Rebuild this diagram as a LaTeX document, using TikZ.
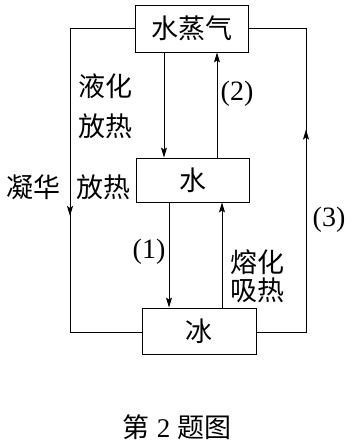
\documentclass[tikz,border=0pt]{standalone}
\usepackage{fontspec}
\setmainfont{Liberation Serif}
\newfontfamily\cjk{Noto Sans CJK SC}
\usetikzlibrary{arrows.meta,decorations.markings}
\begin{document}
\begin{tikzpicture}[x=1pt,y=-1pt,
  box/.style={draw,line width=0.9pt,inner sep=0pt,font=\cjk\fontsize{27}{32}\selectfont},
  lbl/.style={inner sep=0pt,font=\cjk\fontsize{27}{32}\selectfont},
  num/.style={inner sep=0pt,font=\fontsize{28}{32}\selectfont},
  mytip/.tip={Stealth[length=10pt,width=6pt,inset=2pt]},
  arr/.style={line width=0.9pt,-mytip},
  ln/.style={line width=0.9pt},
  midarr/.style={ln,postaction={decorate},decoration={markings,mark=at position #1 with {\arrow{mytip}}}}]
\useasboundingbox (0,0) rectangle (353,444);
\node[box,minimum width=113pt,minimum height=47pt] (v) at (191.5,28.5) {水蒸气};
\node[box,minimum width=113pt,minimum height=44pt] (w) at (192.5,180) {水};
\node[box,minimum width=114pt,minimum height=46pt] (i) at (199,331) {冰};
% helper coordinates
\coordinate (xa) at (164,0);
\coordinate (xb) at (217,0);
\coordinate (xc) at (169,0);
\coordinate (xd) at (222,0);
\coordinate (lt) at (70,28.5);
\coordinate (lb) at (70,332);
\coordinate (rt) at (306,28.5);
\coordinate (rb) at (306,332);
% vertical arrows
\draw[arr] (v.south -| xa) -- (w.north -| xa);
\draw[arr] (w.north -| xb) -- (v.south -| xb);
\draw[arr] (w.south -| xc) -- (i.north -| xc);
\draw[arr] (i.north -| xd) -- (w.south -| xd);
% outer loops
\draw[midarr=252pt] (v.west) -- (lt) -- (lb) -- (i.west |- lb);
\draw[midarr=252pt] (i.east |- rb) -- (rb) -- (rt) -- (v.east);
% labels
\node[lbl] (l1) at (105,86) {液化};
\node[lbl] (l2) at (105,126) {放热};
\node[lbl] (l3) at (33,187) {凝华};
\node[lbl] (l4) at (103,187) {放热};
\node[lbl] (l5) at (257,262) {熔化};
\node[lbl] (l6) at (257,290) {吸热};
\node[num] (n2) at (237,94) {(2)};
\node[num] (n3) at (329,220) {(3)};
\node[num] (n1) at (149,252) {(1)};
\node[inner sep=0pt,font=\fontsize{27}{32}\selectfont] (cap) at (177,427) {{\cjk 第}\hspace{7pt}2\hspace{7pt}{\cjk 题图}};
\end{tikzpicture}
\end{document}
